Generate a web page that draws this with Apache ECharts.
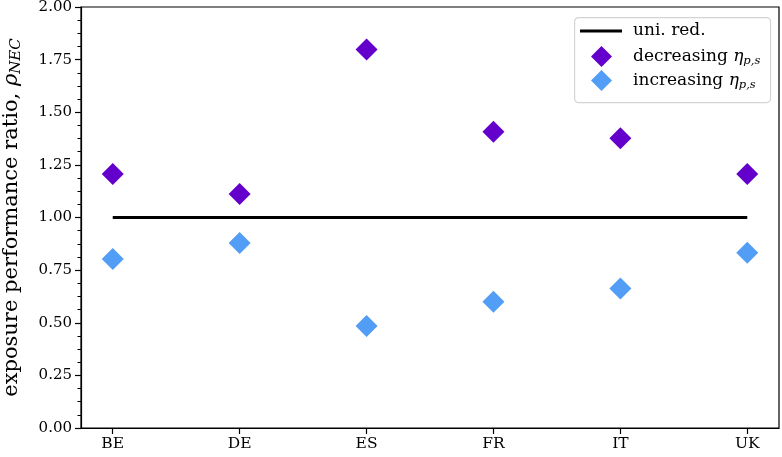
<!DOCTYPE html>
<html><head><meta charset="utf-8">
<script src="https://cdn.jsdelivr.net/npm/echarts@6/dist/echarts.min.js"></script>
<style>html,body{margin:0;padding:0;background:#fff}#c{width:782px;height:457px}</style>
</head><body><div id="c"></div>
<script>
const countries = ['BE', 'DE', 'ES', 'FR', 'IT', 'UK'];
const decreasing = [1.207, 1.112, 1.798, 1.407, 1.377, 1.207];
const increasing = [0.803, 0.879, 0.485, 0.600, 0.663, 0.833];
const uniRed = [1, 1, 1, 1, 1, 1];
const legendNames = ['uni. red.', 'decreasing', 'increasing'];

const FONT = 'DejaVu Serif';
const idx = countries.map((_, i) => i);
const toPts = arr => arr.map((v, i) => [i, v]);

const legendText = {
  color: '#000', fontFamily: FONT, fontSize: 17, lineHeight: 20,
  rich: {
    eta: {fontFamily: FONT, fontStyle: 'italic', fontSize: 17, color: '#000', lineHeight: 20},
    sub: {fontFamily: FONT, fontStyle: 'italic', fontSize: 11.5, color: '#000', lineHeight: 20, padding: [9, 0, 0, 0]}
  }
};
const fmt = n => n === legendNames[0] ? n : n + ' {eta|η}{sub|p,s}';

const chart = echarts.init(document.getElementById('c'), null, {renderer: 'canvas'});
chart.setOption({
  animation: false,
  backgroundColor: '#fff',
  grid: {left: 81, top: 7, right: 3, bottom: 29, containLabel: false, outerBoundsMode: 'none',
    show: true, borderColor: '#000', borderWidth: 1.2, backgroundColor: 'transparent'},
  xAxis: {
    type: 'value', min: -0.25, max: 5.25,
    axisLine: {show: true, onZero: false, lineStyle: {color: '#000', width: 1.2}},
    axisTick: {show: true, customValues: idx, length: 6, lineStyle: {color: '#000', width: 1.2}},
    axisLabel: {customValues: idx, formatter: v => countries[Math.round(v)], color: '#000', fontFamily: FONT, fontSize: 15.5, margin: 8},
    splitLine: {show: false}
  },
  yAxis: {
    type: 'value', min: 0, max: 2, interval: 0.25,
    axisLine: {show: true, onZero: false, lineStyle: {color: '#000', width: 1.2}},
    axisTick: {show: true, length: 6, lineStyle: {color: '#000', width: 1.2}},
    minorTick: {show: true, splitNumber: 4, length: 3.5, lineStyle: {color: '#000', width: 1}},
    axisLabel: {formatter: v => v.toFixed(2), color: '#000', fontFamily: FONT, fontSize: 15, margin: 9},
    splitLine: {show: false},
    name: 'exposure performance ratio, {rho|ρ}{sub|NEC}',
    nameLocation: 'middle', nameRotate: 90, nameGap: 57,
    nameTextStyle: {
      color: '#000', fontFamily: FONT, fontSize: 21,
      rich: {
        rho: {fontFamily: FONT, fontStyle: 'italic', fontSize: 21, color: '#000'},
        sub: {fontFamily: FONT, fontStyle: 'italic', fontSize: 15, color: '#000', padding: [10, 0, 0, 0]}
      }
    }
  },
  graphic: [{
    type: 'rect', left: 574, top: 17, z: 10,
    shape: {width: 196, height: 85, r: 4},
    style: {fill: 'rgba(255,255,255,0.8)', stroke: '#d4d4d4', lineWidth: 1.2}
  }],
  legend: [
    {
      left: 580, top: 21, padding: 0, itemWidth: 42, itemHeight: 3, z: 20,
      data: [{name: legendNames[0], icon: 'rect'}],
      formatter: fmt, textStyle: Object.assign({padding: [0, 0, 0, 6]}, legendText)
    },
    {
      left: 591, top: 46, padding: 0, itemWidth: 21, itemHeight: 21, z: 20,
      data: [{name: legendNames[1], icon: 'diamond'}],
      formatter: fmt, textStyle: Object.assign({padding: [0, 0, 0, 16]}, legendText)
    },
    {
      left: 591, top: 70, padding: 0, itemWidth: 21, itemHeight: 21, z: 20,
      data: [{name: legendNames[2], icon: 'diamond'}],
      formatter: fmt, textStyle: Object.assign({padding: [0, 0, 0, 16]}, legendText)
    }
  ],
  series: [
    {
      name: legendNames[0], type: 'line', data: toPts(uniRed), symbol: 'none',
      lineStyle: {color: '#000', width: 2.8}, itemStyle: {color: '#000'}, z: 2
    },
    {
      name: legendNames[1], type: 'scatter', data: toPts(decreasing), symbol: 'diamond', symbolSize: 22,
      itemStyle: {color: '#6400cc', opacity: 1}, z: 3
    },
    {
      name: legendNames[2], type: 'scatter', data: toPts(increasing), symbol: 'diamond', symbolSize: 22,
      itemStyle: {color: '#529df6', opacity: 1}, z: 3
    }
  ]
});
</script></body></html>
